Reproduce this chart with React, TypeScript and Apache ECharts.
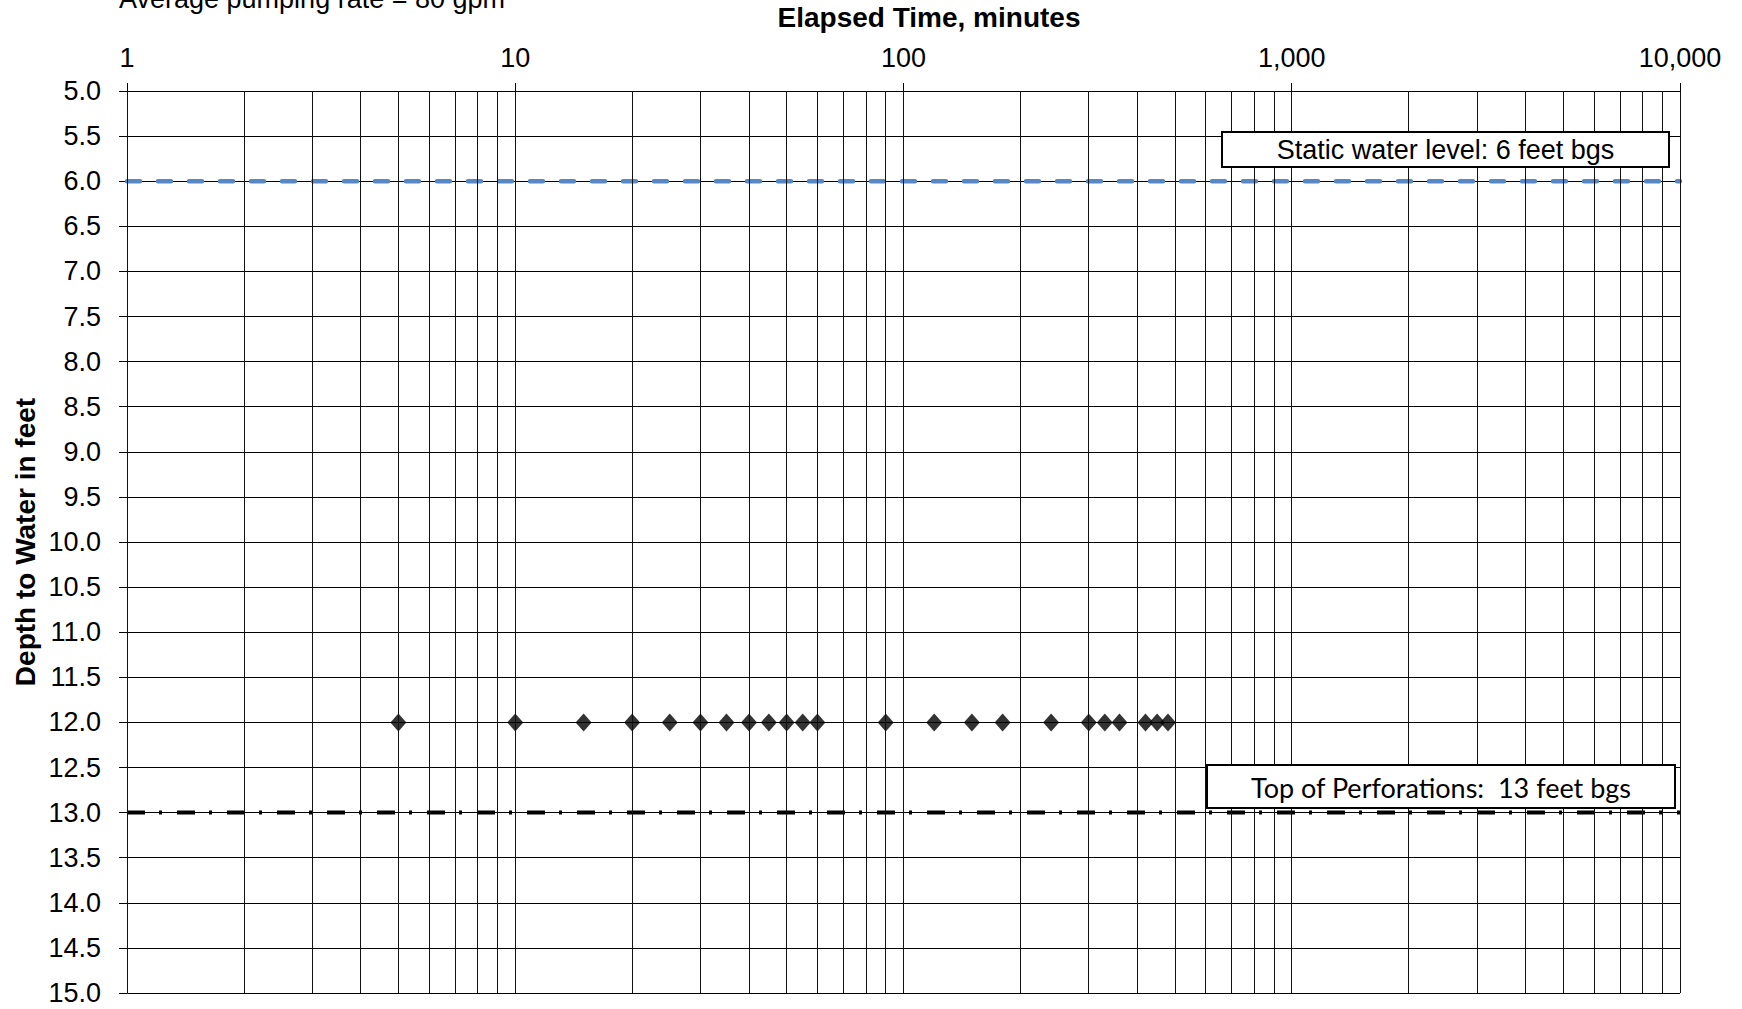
import React, { useEffect, useRef } from "react";
import * as echarts from "echarts";

// ---- Data ----
const elapsedMinutes = [5, 10, 15, 20, 25, 30, 35, 40, 45, 50, 55, 60, 90, 120, 150, 180, 240, 300, 330, 360, 420, 450, 480];
const depthToWater = [12.0, 12.0, 12.0, 12.0, 12.0, 12.0, 12.0, 12.0, 12.0, 12.0, 12.0, 12.0, 12.0, 12.0, 12.0, 12.0, 12.0, 12.0, 12.0, 12.0, 12.0, 12.0, 12.0];
const staticWaterLevel = 6;
const topOfPerforations = 13;
const xRange = [1, 10000];
const yRange = [5, 15];
const yStep = 0.5;
const decades = [1, 10, 100, 1000];
const logGridMultipliers = [1, 2, 3, 4, 5, 6, 7, 8, 9];

const titleText = "Elapsed Time, minutes";
const yTitleText = "Depth to Water in feet";
const subtitleText = "Average pumping rate = 80 gpm";
const staticLabel = "Static water level: 6 feet bgs";
const perfLabel = "Top of Perforations:  13 feet bgs";

const FONT = "'Liberation Sans', Arial, sans-serif";

export default function App() {
  const ref = useRef<HTMLDivElement>(null);

  useEffect(() => {
    if (!ref.current) return;
    const chart = echarts.init(ref.current, null, { renderer: "svg" });

    const gridValues: number[] = [];
    decades.forEach((d) => logGridMultipliers.forEach((m) => gridValues.push(d * m)));
    gridValues.push(xRange[1]);

    const gridLeft = 127;
    const gridTop = 91;
    const gridRight = 1680;
    const gridBottom = 993;

    const option: any = {
      animation: false,
      backgroundColor: "#ffffff",
      grid: {
        left: gridLeft,
        top: gridTop,
        width: gridRight - gridLeft,
        height: gridBottom - gridTop,
        containLabel: false,
      },
      xAxis: {
        type: "log",
        logBase: 10,
        min: xRange[0],
        max: xRange[1],
        position: "top",
        axisLine: { show: true, lineStyle: { color: "#000", width: 1 } },
        axisTick: { show: true, inside: false, length: 8, lineStyle: { color: "#000" } },
        splitLine: { show: false },
        minorTick: { show: false },
        axisLabel: {
          fontFamily: FONT,
          fontSize: 27,
          color: "#000",
          margin: 20,
          formatter: (v: number) => Math.round(v).toLocaleString("en-US"),
        },
      },
      yAxis: {
        type: "value",
        inverse: true,
        min: yRange[0],
        max: yRange[1],
        interval: yStep,
        axisLine: { show: true, lineStyle: { color: "#868686", width: 1 } },
        axisTick: { show: true, inside: false, length: 8, lineStyle: { color: "#000" } },
        splitLine: { show: true, lineStyle: { color: "#000", width: 1 } },
        axisLabel: {
          fontFamily: FONT,
          fontSize: 27,
          color: "#000",
          margin: 26,
          formatter: (v: number) => v.toFixed(1),
        },
      },
      series: [
        {
          name: "grid",
          type: "line",
          data: [[xRange[0], yRange[0]]],
          showSymbol: false,
          symbol: "none",
          lineStyle: { opacity: 0 },
          silent: true,
          z: 1,
          markLine: {
            silent: true,
            symbol: ["none", "none"],
            label: { show: false },
            lineStyle: { type: "solid", color: "#111", width: 1 },
            emphasis: { disabled: true },
            data: gridValues.map((v) => ({ xAxis: v })),
          },
        },
        {
          name: "Static water level",
          type: "line",
          data: [[xRange[0], staticWaterLevel], [xRange[1], staticWaterLevel]],
          showSymbol: false,
          symbol: "none",
          lineStyle: { color: "#5887C5", width: 4.5, type: [13, 18], cap: "round" },
          z: 3,
        },
        {
          name: "Top of Perforations",
          type: "line",
          data: [[xRange[0], topOfPerforations], [xRange[1], topOfPerforations]],
          showSymbol: false,
          symbol: "none",
          lineStyle: { color: "#000", width: 4, type: [18, 14, 3, 15] },
          z: 3,
        },
        {
          name: "Depth to Water",
          type: "scatter",
          data: elapsedMinutes.map((t, i) => [t, depthToWater[i]]),
          symbol: "diamond",
          symbolSize: [16, 18],
          itemStyle: { color: "#000" },
          z: 4,
        },
      ],
      graphic: [
        {
          type: "text",
          x: 119,
          y: -1,
          z: 100,
          style: { text: subtitleText, font: `27px ${FONT}`, fill: "#000", align: "left", verticalAlign: "middle" },
        },
        {
          type: "text",
          x: 929,
          y: 17,
          z: 100,
          style: { text: titleText, font: `bold 28px ${FONT}`, fill: "#000", align: "center", verticalAlign: "middle" },
        },
        {
          type: "text",
          x: 25,
          y: 542,
          rotation: Math.PI / 2,
          z: 100,
          style: { text: yTitleText, font: `bold 28px ${FONT}`, fill: "#000", align: "center", verticalAlign: "middle" },
        },
        {
          type: "group",
          z: 100,
          children: [
            {
              type: "rect",
              shape: { x: 1222, y: 132, width: 447, height: 35 },
              style: { fill: "#fff", stroke: "#000", lineWidth: 2 },
              z: 100,
            },
            {
              type: "text",
              x: 1445.5,
              y: 150,
              z: 101,
              style: { text: staticLabel, font: `27px ${FONT}`, fill: "#000", align: "center", verticalAlign: "middle" },
            },
          ],
        },
        {
          type: "group",
          z: 100,
          children: [
            {
              type: "rect",
              shape: { x: 1207, y: 765, width: 468, height: 43 },
              style: { fill: "#fff", stroke: "#000", lineWidth: 2 },
              z: 100,
            },
            {
              type: "text",
              x: 1441,
              y: 787,
              z: 101,
              style: { text: perfLabel, font: `27px Lato, 'Open Sans', sans-serif`, fill: "#000", align: "center", verticalAlign: "middle" },
            },
          ],
        },
      ],
    };

    chart.setOption(option);
    return () => chart.dispose();
  }, []);

  return (
    <div
      ref={ref}
      style={{ position: "absolute", left: 0, top: 0, width: 1742, height: 1009, background: "#fff" }}
    />
  );
}
